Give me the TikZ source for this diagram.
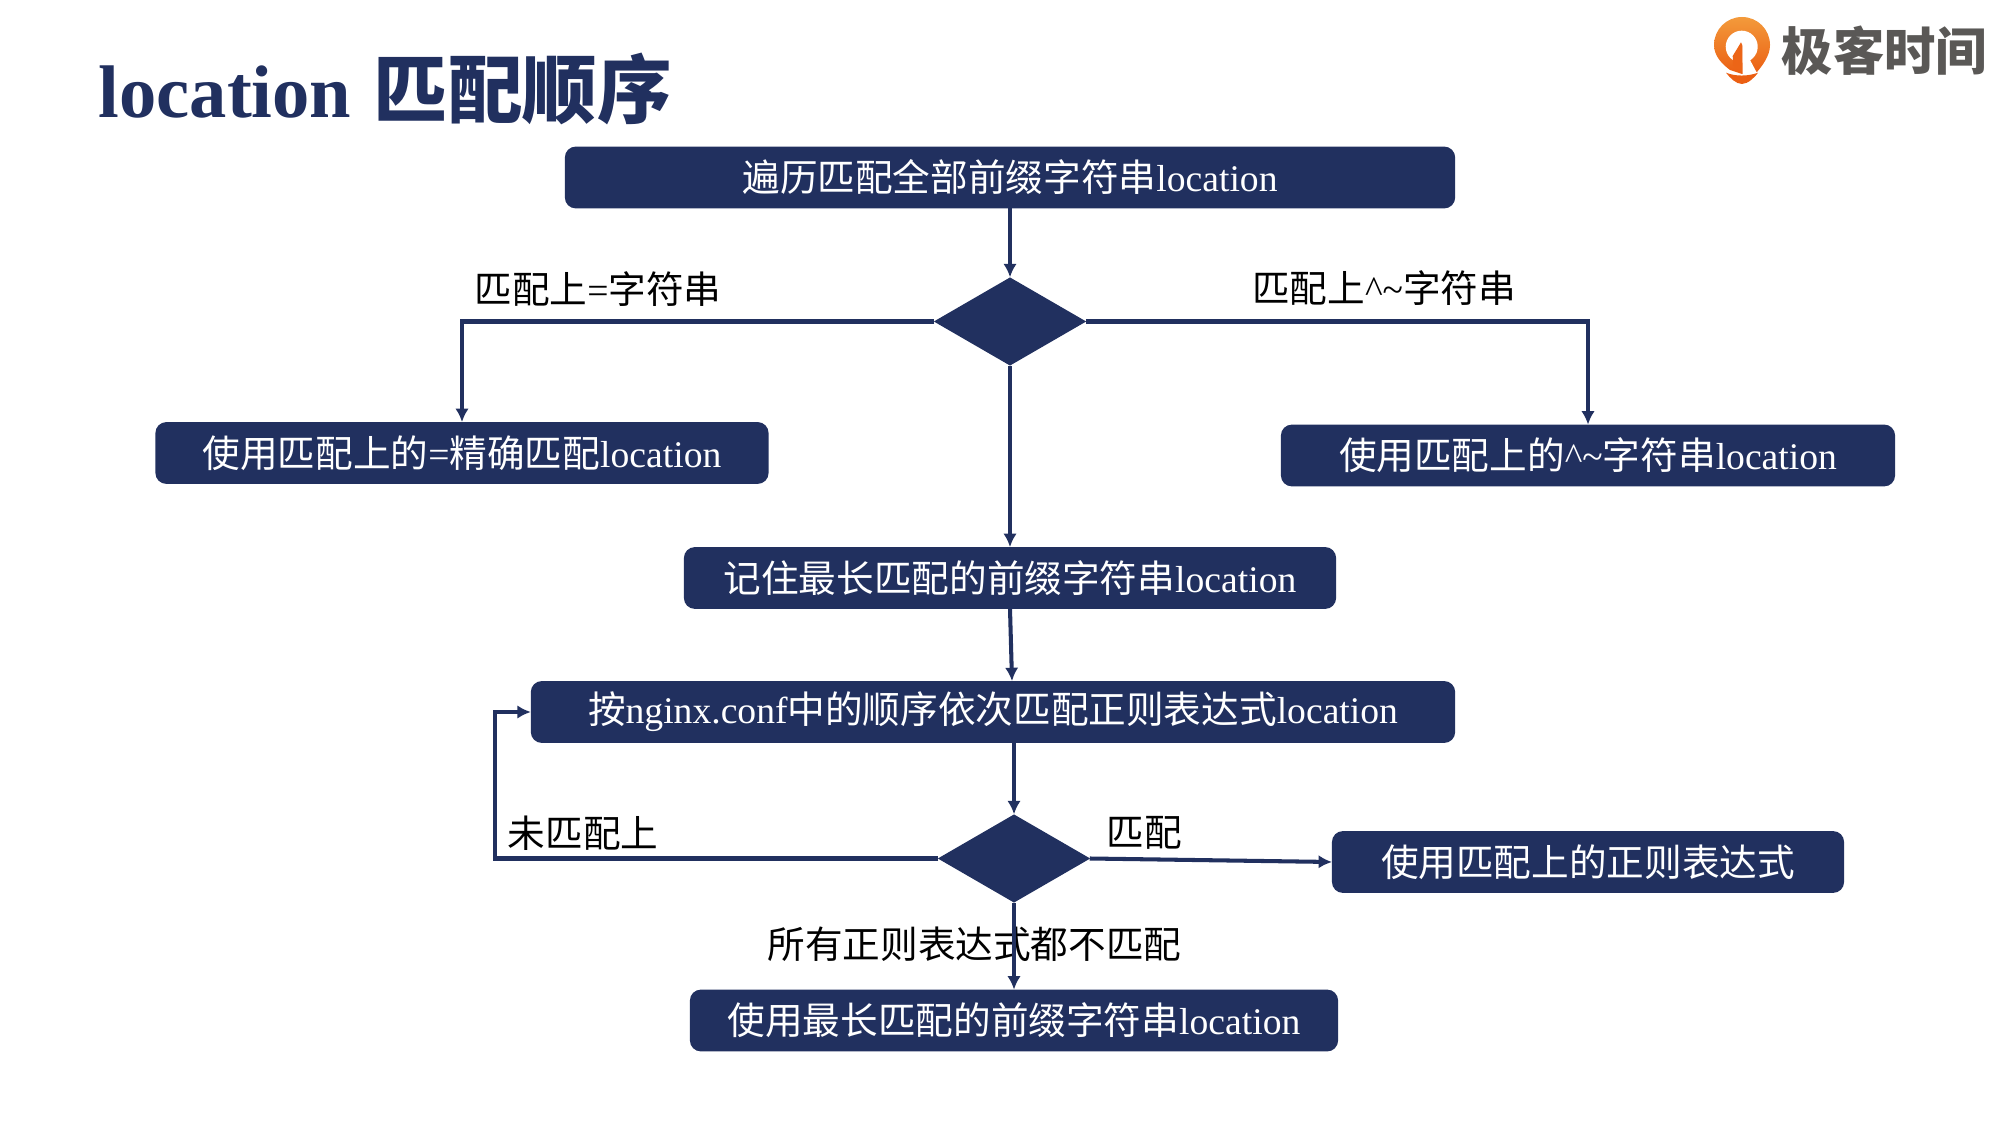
\documentclass[tikz,border=0pt]{standalone}
\usepackage{fontspec}
\setmainfont{Noto Sans CJK SC}
\newfontfamily\lat{Liberation Serif}
\usetikzlibrary{arrows.meta,shapes.geometric}
\definecolor{mynavy}{RGB}{33, 48, 95}
\definecolor{logogray}{RGB}{90, 88, 86}
\definecolor{logotop}{RGB}{243, 154, 59}
\definecolor{logolow}{RGB}{235, 95, 19}
\tikzset{
  stepbox/.style={draw=mynavy, fill=mynavy, rounded corners=.1cm, line width=.5pt, text=white,
    minimum height=.6cm, inner sep=0pt, font=\fontsize{10.7}{12}\selectfont},
  decide/.style={diamond, draw=mynavy, fill=mynavy, inner sep=0pt, minimum width=1.5cm, minimum height=.87cm},
  flow/.style={draw=mynavy, line width=1.15pt, -{Latex[length=3.8pt,width=3.8pt]}},
  tag/.style={text=black, inner sep=0pt, font=\fontsize{10.7}{12}\selectfont}
}
\begin{document}
\begin{tikzpicture}[x=0.01cm,y=-0.01cm]
    \useasboundingbox (0,0) rectangle (2000,1125);
    % title
    \node[anchor=base west, inner sep=0pt, text=mynavy, font=\fontsize{21.2}{24}\selectfont\bfseries] (title) at (98,118)
        {{\lat location} \hspace{1.5pt}匹配顺序};
    % logo
    \shade[top color=logotop, bottom color=logolow] (1714,45) .. controls (1714,29.5) and (1726.5,17) .. (1742,17)
        .. controls (1757.5,17) and (1770,29.5) .. (1770,45) .. controls (1770,56) and (1762,66) .. (1757,72)
        -- (1742,74) -- (1730,70) .. controls (1722,64) and (1714,56) .. (1714,45) -- cycle;
    \fill[white] (1741.7,46.7) circle (16);
    \fill[logolow!90!logotop] (1741,42.3) -- (1732.7,56) -- (1733,66) -- (1742.7,72) -- (1742.7,46) -- cycle;
    \fill[white] (1742.7,44) -- (1742.7,75) -- (1758,75) -- (1750,60) -- (1754,50) -- cycle;
    \fill[logolow] (1726,72.7) .. controls (1735,76.5) and (1748,76.5) .. (1758,72.7)
        .. controls (1755,77) and (1748,84) .. (1742,84) .. controls (1736,84) and (1730,78) .. (1726,72.7) -- cycle;
    \node[anchor=west, inner sep=0pt, text=logogray, font=\fontsize{14.6}{16}\selectfont\bfseries] (brand) at (1781,51) {极客时间};
    % boxes
    \node[stepbox, minimum width=8.88cm] (scan) at (1010,177.5) {遍历匹配全部前缀字符串{\lat location}};
    \node[decide] (prefix) at (1010,321.5) {};
    \node[stepbox, minimum width=6.11cm] (exact) at (462,453) {使用匹配上的{\lat =}精确匹配{\lat location}};
    \node[stepbox, minimum width=6.12cm] (caret) at (1588,455.5) {使用匹配上的{\lat \^{}\char`~}字符串{\lat location}};
    \node[stepbox, minimum width=6.5cm] (longest) at (1010,578) {记住最长匹配的前缀字符串{\lat location}};
    \node[stepbox, minimum width=9.22cm] (regex) at (993,712) {按{\lat nginx.conf}中的顺序依次匹配正则表达式{\lat location}};
    \node[decide] (hit) at (1014,858.5) {};
    \node[stepbox, minimum width=5.1cm] (useregex) at (1588,862) {使用匹配上的正则表达式};
    \node[stepbox, minimum width=6.46cm] (uselong) at (1014,1020.5) {使用最长匹配的前缀字符串{\lat location}};
    % labels
    \node[tag] (eqtag) at (598,289.5) {匹配上{\lat =}字符串};
    \node[tag] (carettag) at (1384,288) {匹配上{\lat \^{}\char`~}字符串};
    \node[tag] (misstag) at (583,833) {未匹配上};
    \node[tag] (hittag) at (1144,833) {匹配};
    \node[tag] (nonetag) at (974.5,944) {所有正则表达式都不匹配};
    % arrows
    \coordinate (back) at (495,858.5);
    \draw[flow] (scan.south -| prefix.north) -- (prefix.north);
    \draw[flow] (prefix.west) -| (exact.north);
    \draw[flow] (prefix.east) -| (caret.north);
    \draw[flow] (prefix.south) -- (longest.north);
    \draw[flow] (longest.south) -- ([xshift=.19cm]regex.north);
    \draw[flow] (hit.north |- regex.south) -- (hit.north);
    \draw[flow] (hit.west) -- (back) |- (regex.west);
    \draw[flow] (hit.east) -- (useregex.west);
    \draw[flow] (hit.south) -- (uselong.north);
\end{tikzpicture}
\end{document}
